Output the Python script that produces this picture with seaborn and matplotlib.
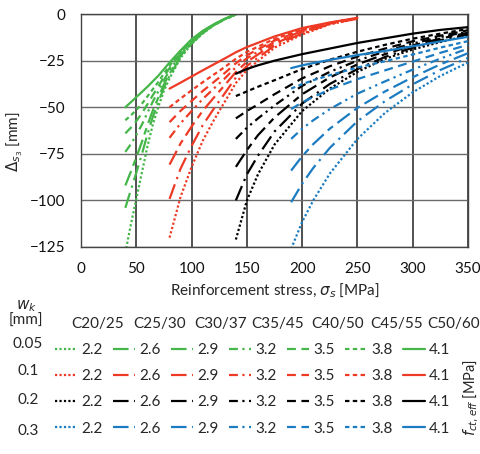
import numpy as np
import pandas as pd
import matplotlib
matplotlib.use("Agg")
import matplotlib.pyplot as plt
from matplotlib.lines import Line2D
import seaborn as sns

# fct,eff classes (legend columns) and crack widths (legend rows)
fcts = ['2.2', '2.6', '2.9', '3.2', '3.5', '3.8', '4.1']
classes = ['C20/25', 'C25/30', 'C30/37', 'C35/45', 'C40/50', 'C45/55', 'C50/60']
wks = ['0.05', '0.1', '0.2', '0.3']

# wk = 0.05 mm
x_w005 = [40, 45, 50, 55, 60, 65, 70, 75, 80, 90, 100, 110, 120, 130, 140]
y_w005 = {
    '2.2': [-128, -113, -99, -85, -71, -59, -49.5, -41, -34.5, -23.5, -16, -10.5, -6, -2.8, -0.3],
    '2.6': [-104, -94.4, -85, -75.1, -64.5, -54.9, -47, -39.3, -33.2, -22.9, -15.6, -10.3, -5.9, -2.8, -0.3],
    '2.9': [-92, -84.6, -76.8, -68.6, -59.7, -51.5, -44.6, -37.6, -32, -22.3, -15.3, -10.1, -5.9, -2.7, -0.2],
    '3.2': [-74, -69.8, -64.8, -59.3, -53, -46.8, -41.3, -35.3, -30.3, -21.5, -14.8, -9.8, -5.8, -2.7, -0.2],
    '3.5': [-64, -61, -57.4, -53.2, -48.4, -43.4, -38.8, -33.5, -29, -20.9, -14.4, -9.5, -5.7, -2.6, -0.1],
    '3.8': [-57, -54.4, -51.4, -48.1, -44.2, -40.2, -36.3, -31.8, -27.7, -20.3, -14, -9.3, -5.6, -2.6, -0.1],
    '4.1': [-50, -47.3, -44.5, -41.8, -39, -36, -33, -29.5, -26, -19.5, -13.5, -9, -5.5, -2.5, 0],
}

# wk = 0.1 mm
x_w01 = [80, 90, 100, 110, 120, 130, 140, 150, 175, 200, 225, 250]
y_w01 = {
    '2.2': [-120, -98, -82, -68, -57, -47, -37, -30, -18, -11, -5.5, -2.5],
    '2.6': [-99.2, -82.9, -70.7, -59.7, -50.8, -42.5, -34, -27.8, -16.9, -10.4, -5.3, -2.4],
    '2.9': [-80.8, -69.4, -60.3, -51.9, -44.9, -38.1, -31.1, -25.6, -15.8, -9.7, -5.1, -2.3],
    '3.2': [-66.4, -58.6, -52, -45.6, -40, -34.5, -28.5, -23.7, -14.9, -9.2, -5, -2.2],
    '3.5': [-58, -51.9, -46.6, -41.3, -36.5, -31.6, -26.4, -22.1, -14.2, -8.8, -4.9, -2.2],
    '3.8': [-50, -45.3, -40.9, -36.6, -32.5, -28.4, -24, -20.3, -13.3, -8.2, -4.7, -2.1],
    '4.1': [-40, -36.8, -33.5, -30.2, -27, -23.8, -20.5, -17.7, -12, -7.5, -4.5, -2],
}

# wk = 0.2 mm
x_w02 = [140, 150, 160, 175, 200, 225, 250, 275, 300, 325, 350]
y_w02 = {
    '2.2': [-121, -100, -86, -70, -52, -40, -31, -24, -19, -15, -11.5],
    '2.6': [-100, -86, -76, -63, -48, -37.5, -29.5, -23, -18, -14, -10.8],
    '2.9': [-82, -73, -65, -55.5, -43, -34, -27, -21.5, -16.8, -13.2, -10],
    '3.2': [-67, -61, -56, -49, -38.5, -31, -25, -20, -15.8, -12.4, -9.4],
    '3.5': [-56, -52, -48.5, -43, -34.5, -28, -22.8, -18.5, -14.6, -11.6, -8.7],
    '3.8': [-44, -41.5, -39, -35.5, -29.5, -24.5, -20.2, -16.5, -13.2, -10.5, -8],
    '4.1': [-32, -29.5, -27.5, -25, -21.5, -18.5, -15.5, -13, -10.5, -8.5, -7],
}

# wk = 0.3 mm
x_w03 = [190, 200, 210, 225, 250, 275, 300, 325, 350]
y_w03 = {
    '2.2': [-126, -111.5, -100, -85.6, -67, -53, -42, -33.2, -26],
    '2.6': [-101, -91, -82.6, -71.8, -57.5, -46.7, -37.7, -30, -23.5],
    '2.9': [-84, -76.3, -69.8, -61.5, -50.3, -41.5, -33.9, -27, -21],
    '3.2': [-67, -61.5, -57, -51, -42.7, -36.1, -29.8, -23.9, -18.5],
    '3.5': [-51, -47.4, -44.5, -40.5, -34.9, -30.2, -25.5, -20.8, -16.5],
    '3.8': [-40, -37.6, -35.5, -32.8, -28.7, -25.3, -21.7, -18, -14.5],
    '4.1': [-29, -27.5, -26.3, -24.6, -22, -19.8, -17.3, -14.7, -12.2],
}

colors = {'0.05': '#45b649', '0.1': '#ee3a25', '0.2': '#000000', '0.3': '#1c7cc2'}
dashes = {'2.2': (1, 1), '2.6': (7, 2.5, 1, 2.5), '2.9': (7, 2.5, 3, 2.5),
          '3.2': (4, 2, 1, 2, 1, 2), '3.5': (4, 2.5), '3.8': (2, 1.5), '4.1': ''}

rows = []
for wk, xs, ys in [('0.05', x_w005, y_w005), ('0.1', x_w01, y_w01),
                   ('0.2', x_w02, y_w02), ('0.3', x_w03, y_w03)]:
    for f in fcts:
        for xv, yv in zip(xs, ys[f]):
            rows.append((wk, f, xv, yv))
df = pd.DataFrame(rows, columns=['wk', 'fct', 'sigma', 'delta'])

sns.set_style('white')
plt.rcParams['font.family'] = ['Lato', 'DejaVu Sans']
plt.rcParams['font.size'] = 11
plt.rcParams['mathtext.fontset'] = 'dejavusans'
fs = 11

fig, ax = plt.subplots(figsize=(4.8, 4.54), dpi=100)
fig.subplots_adjust(left=0.169, right=0.975, top=0.969, bottom=0.456)

sns.lineplot(data=df, x='sigma', y='delta', hue='wk', style='fct',
             palette=colors, dashes=dashes, hue_order=wks, style_order=fcts,
             estimator=None, sort=False, lw=1.6, legend=False, ax=ax)

ax.set_xlim(0, 350)
ax.set_ylim(-125, 0)
ax.set_xticks(np.arange(0, 351, 50))
ax.set_yticks(np.arange(-125, 1, 25))
for v in np.arange(50, 351, 50):
    ax.axvline(v, color='#333333', lw=1.2, zorder=0)
for v in np.arange(-125, 1, 25):
    ax.axhline(v, color='#6a6a6a', lw=1.0, zorder=0)
for s in ax.spines.values():
    s.set_color('#444444')
    s.set_linewidth(1.0)
ax.tick_params(length=0, pad=11, labelsize=fs, colors='#111111')
ax.set_xlabel(r'Reinforcement stress, $\sigma_s$ [MPa]', fontsize=fs, labelpad=4)
ax.set_ylabel(r'$\Delta_{s_3}$ [mm]', fontsize=fs)
ax.yaxis.set_label_coords(-0.145, 0.45)

# legend: columns by fct, rows by wk (column-major fill)
handles, labels = [], []
for f in fcts:
    for wk in wks:
        if dashes[f] == '':
            h = Line2D([], [], color=colors[wk], lw=1.6, ls='-')
        else:
            h = Line2D([], [], color=colors[wk], lw=1.6, dashes=dashes[f])
        handles.append(h)
        labels.append(f)
fig.legend(handles, labels, ncol=7, loc='upper left',
           bbox_to_anchor=(55 / 480, 1 - 343 / 454), bbox_transform=fig.transFigure,
           frameon=False, borderpad=0, borderaxespad=0, handlelength=1.45,
           handletextpad=0.25, columnspacing=0.7, labelspacing=0.8, fontsize=fs)

fig.text(26 / 480, 1 - 306 / 454, r'$w_k$', ha='center', va='center', fontsize=fs)
fig.text(26 / 480, 1 - 321 / 454, '[mm]', ha='center', va='center', fontsize=fs)
for cx, name in zip([98, 160, 221, 278, 338, 397, 454], classes):
    fig.text(cx / 480, 1 - 324 / 454, name, ha='center', va='center', fontsize=fs)
for cy, wk in zip([344, 371, 400, 431], wks):
    fig.text(28 / 480, 1 - cy / 454, wk, ha='center', va='center', fontsize=fs)
fig.text(471 / 480, 1 - 398 / 454, r'$f_{ct,eff}$ [MPa]', rotation=90,
         ha='center', va='center', fontsize=10.5)

fig.savefig('out.png', dpi=100)
